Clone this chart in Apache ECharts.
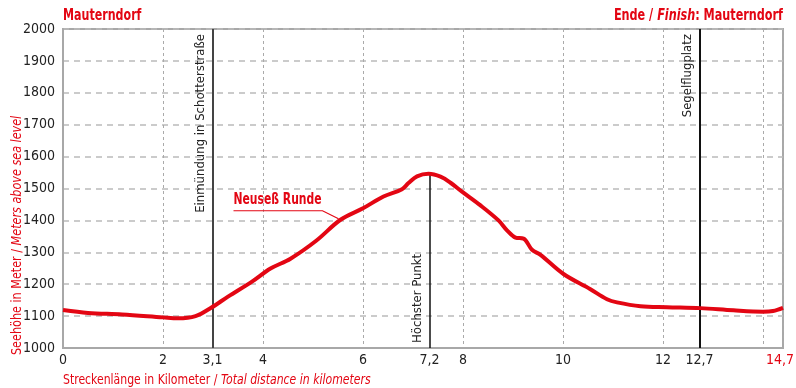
<!DOCTYPE html>
<html><head><meta charset="utf-8">
<script src="https://cdn.jsdelivr.net/npm/echarts@6/dist/echarts.min.js"></script>
<style>html,body{margin:0;padding:0;background:#fff}#c{width:796px;height:388px}</style>
</head><body><div id="c"></div>
<script>
// ---- data ----
const distKm = [0, 0.5, 1.18, 2.0, 2.3, 2.65, 2.97, 3.3, 3.78, 4.15, 4.55, 5.07, 5.55, 6.0, 6.41, 6.78, 6.91, 7.08, 7.31, 7.55, 7.75, 7.98, 8.35, 8.71, 8.88, 9.05, 9.21, 9.38, 9.55, 10.01, 10.54, 10.88, 11.08, 11.55, 12.08, 12.75, 13.41, 14.0, 14.2, 14.4];
const elevM = [1119, 1110, 1105, 1096, 1093, 1100, 1127, 1161, 1208, 1249, 1280, 1337, 1402, 1438, 1475, 1498, 1517, 1538, 1546, 1537, 1518, 1490, 1447, 1400, 1369, 1346, 1343, 1308, 1292, 1232, 1185, 1153, 1143, 1131, 1128, 1125, 1118, 1114, 1116, 1126];
const xTickPos = [0, 2, 2.99, 4, 6, 7.33, 8, 10, 12, 12.73, 14.4];
const xTickText = ['0', '2', '3,1', '4', '6', '7,2', '8', '10', '12', '12,7', '14,7'];
const markerPos = [2.99, 7.33, 12.73];
const markerText = ['Einmündung in Schotterstraße', 'Höchster Punkt', 'Segelflugplatz'];
const peakElev = 1546;
const seriesName = 'Neuseß Runde';
const labelAnchor = [5.55, 1402];
const startTitle = 'Mauterndorf';
const endTitle = ['Ende / ', 'Finish', ': Mauterndorf'];
const xName = ['Streckenlänge in Kilometer / ', 'Total distance in kilometers'];
const yName = ['Seehöhe in Meter / ', 'Meters above sea level'];

const RED = '#e30613';
const FONT = "'Liberation Sans Narrow','DejaVu Sans Condensed',sans-serif";
const chart = echarts.init(document.getElementById('c'), null, {renderer: 'canvas'});
const lineData = distKm.map((d, i) => [d, elevM[i]]);

chart.setOption({
  animation: false,
  textStyle: {fontFamily: FONT},
  grid: {left: 63, right: 13, top: 29, bottom: 40, show: true, borderColor: '#a8a8a8', borderWidth: 2,
         containLabel: false, outerBoundsMode: 'none'},
  xAxis: [
    {type: 'value', min: 0, max: 14.4, interval: 2,
     axisLine: {show: true, onZero: false, lineStyle: {color: '#a8a8a8', width: 2}},
     axisTick: {show: false}, axisLabel: {show: false},
     splitLine: {show: true, lineStyle: {color: '#aaa', width: 1, type: [3, 3]}}},
    {type: 'value', min: 0, max: 14.4, position: 'bottom',
     axisLine: {show: false}, axisTick: {show: false}, splitLine: {show: false},
     axisLabel: {show: true, customValues: xTickPos, margin: 5, fontSize: 14, color: '#222', fontFamily: FONT,
       formatter: v => { const i = xTickPos.findIndex(p => Math.abs(p - v) < 1e-6); const t = i >= 0 ? xTickText[i] : ''; return i === xTickPos.length - 1 ? '{r|' + t + '}' : t; },
       rich: {r: {color: RED, fontSize: 14, fontFamily: FONT, padding: [0, 6, 0, 0]}}}}
  ],
  yAxis: {type: 'value', min: 1000, max: 2000, interval: 100,
    axisLine: {show: true, lineStyle: {color: '#a8a8a8', width: 2}}, axisTick: {show: false},
    axisLabel: {fontSize: 14, color: '#222', margin: 8, fontFamily: FONT, formatter: v => String(v)},
    splitLine: {lineStyle: {color: '#bbb', width: 1.5, type: [6, 5]}}},
  series: [{
    type: 'line', name: seriesName, data: lineData, smooth: 0.35, showSymbol: false, xAxisIndex: 0,
    lineStyle: {color: RED, width: 4}, z: 5,
    markLine: {silent: true, symbol: 'none', animation: false,
      label: {color: '#222', fontSize: 13, fontFamily: FONT, distance: 5},
      data: [
        [{coord: [markerPos[0], 1000], lineStyle: {color: '#444', width: 2, type: 'solid'},
          label: {formatter: markerText[0], position: 'insideEndTop'}}, {coord: [markerPos[0], 2000]}],
        [{coord: [markerPos[1], 1000], lineStyle: {color: '#111', width: 1.5, type: 'solid'},
          label: {formatter: markerText[1], position: 'insideStartTop'}}, {coord: [markerPos[1], peakElev]}],
        [{coord: [markerPos[2], 1000], lineStyle: {color: '#111', width: 2, type: 'solid'},
          label: {formatter: markerText[2], position: 'insideEndTop'}}, {coord: [markerPos[2], 2000]}]
      ]}
  }]
});

const p = chart.convertToPixel({xAxisIndex: 0, yAxisIndex: 0}, labelAnchor);
const rs = (sz, extra) => Object.assign({fill: RED, fontSize: sz, fontFamily: FONT}, extra || {});
chart.setOption({graphic: [
  {type: 'text', silent: true, x: 63, y: 16, scaleX: 0.77,
   style: {text: startTitle, fill: RED, fontSize: 16, fontWeight: 'bold', fontFamily: FONT, align: 'left', verticalAlign: 'middle'}},
  {type: 'text', silent: true, x: 783, y: 16, scaleX: 0.78,
   style: {text: '{b|' + endTitle[0] + '}{i|' + endTitle[1] + '}{b|' + endTitle[2] + '}', fill: RED, align: 'right', verticalAlign: 'middle',
     rich: {b: rs(16, {fontWeight: 'bold'}), i: rs(16, {fontStyle: 'italic', fontWeight: 'bold'})}}},
  {type: 'text', silent: true, x: 63, y: 380, scaleX: 0.865,
   style: {text: '{a|' + xName[0] + '}{b|' + xName[1] + '}', fill: RED, align: 'left', verticalAlign: 'middle',
     rich: {a: rs(14), b: rs(14, {fontStyle: 'italic'})}}},
  {type: 'text', silent: true, x: 17, y: 355, rotation: Math.PI / 2, scaleX: 0.89,
   style: {text: '{a|' + yName[0] + '}{b|' + yName[1] + '}', fill: RED, align: 'left', verticalAlign: 'middle',
     rich: {a: rs(14), b: rs(14, {fontStyle: 'italic'})}}},
  {type: 'polyline', silent: true, shape: {points: [[p[0] - 107, p[1] - 9], [p[0] - 18, p[1] - 9], [p[0] - 2, p[1] - 1]]},
   style: {stroke: RED, lineWidth: 1.2, fill: null}},
  {type: 'text', silent: true, x: p[0] - 107, y: p[1] - 12, scaleX: 0.8,
   style: {text: seriesName, fill: RED, fontSize: 15, fontWeight: 'bold', fontFamily: FONT, align: 'left', verticalAlign: 'bottom'}}
]});
</script></body></html>
